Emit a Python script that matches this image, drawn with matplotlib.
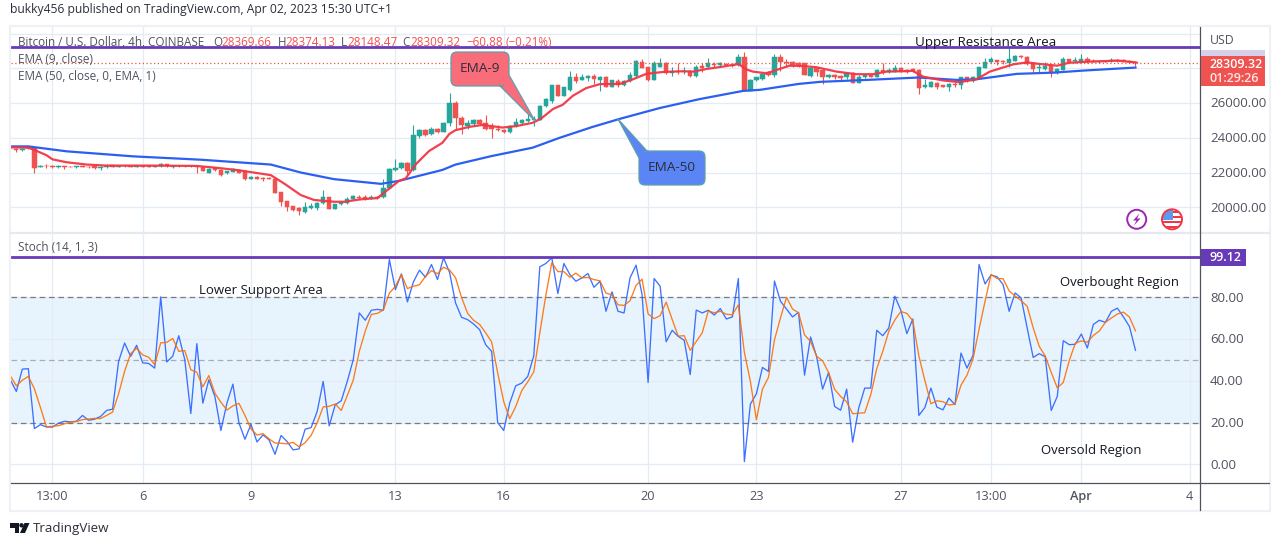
import matplotlib
matplotlib.use("Agg")
import matplotlib.pyplot as plt
import numpy as np
from matplotlib.path import Path
from matplotlib.patches import PathPatch, Rectangle, Circle, Polygon

plt.rcParams['font.family'] = ['Open Sans', 'DejaVu Sans']

W, H = 1280, 546

opens = [23380,23350,23300,23450,23400,22320,22370,22360,22340,22350,22340,22330,22360,22340,22350,22290,22300,22420,22340,22400,
 22400,22340,22380,22350,22340,22350,22480,22320,22390,22370,22390,22400,22320,22000,22270,22150,21950,22040,22130,22100,
 21620,21770,21680,21700,21640,20860,20340,20050,19960,19714,19943,19943,20228,20571,19923,20170,20230,20457,20610,20570,
 20514,20600,20570,21085,22130,22250,22550,22133,24095,24438,24190,24530,24360,24857,26000,25143,24700,24820,25050,24860,
 24630,24510,24440,24320,24700,24860,24950,25000,25050,25810,26110,27010,26420,26760,27470,27330,27430,27560,27300,27470,
 26950,27280,27030,27260,27560,28380,28060,27330,28100,28320,27710,27870,27800,27870,27560,28130,28060,28250,28170,28250,
 28170,28190,28630,26720,27300,27370,27770,27620,28630,28380,28340,28290,28290,27560,28000,27900,27490,27640,27560,27470,
 27710,27180,27470,27620,27520,27900,27810,27810,28040,27900,27940,27900,26900,26950,27180,27010,26900,27100,27010,27470,
 27240,27430,28040,28340,28460,28420,28290,28440,28700,28630,28290,28040,27960,28150,27710,27900,28510,28420,28380,28510,
 28430,28340,28430,28400,28470,28450,28420,28369.66]
closes = [23330,23300,23370,23400,22270,22400,22350,22340,22370,22330,22330,22360,22340,22320,22250,22310,22400,22340,22400,22370,
 22340,22380,22340,22340,22390,22480,22370,22400,22370,22380,22360,22300,22100,22210,22120,21880,22080,22190,21980,21600,
 21770,21620,21620,21640,20820,20300,20020,19860,19770,20000,20076,20266,20571,19923,20190,20320,20457,20650,20514,20457,
 20610,20560,21085,22190,22290,22550,22095,24133,24438,24133,24533,24360,24857,26000,25143,24760,24860,25050,24820,24510,
 24510,24440,24320,24700,24930,25000,25090,25090,25850,26230,27010,26420,26910,27470,27240,27470,27560,27370,27470,26950,
 27300,27030,27260,27620,28440,28040,27330,28290,28320,27750,27870,27770,27830,27560,28100,28000,28290,28170,28290,28170,
 28150,28630,26720,27330,27470,27680,27620,28670,28380,28290,28150,28190,27620,28000,27810,27490,27640,27520,27430,27710,
 27180,27520,27620,27520,27900,27770,27900,28040,27810,27810,27850,26860,27010,27200,26900,26950,27100,27010,27470,27240,
 27470,28060,28340,28510,28380,28380,28510,28700,28630,28250,27960,28100,28150,27710,27960,28510,28380,28470,28510,28340,
 28380,28430,28390,28470,28430,28420,28370,28309.32]
highs = [23430,23400,23420,23500,23450,22420,22480,22420,22420,22400,22380,22400,22420,22380,22400,22380,22500,22450,22450,22440,
 22450,22430,22440,22420,22440,22530,22510,22440,22420,22420,22420,22430,22360,22250,22300,22200,22110,22260,22170,22130,
 21800,21800,21720,21750,21740,20900,20380,20090,20000,20290,20266,20323,20990,20600,20210,20350,20610,20700,20680,20700,
 20680,20650,21600,22250,22800,22600,22600,24762,24515,24500,24600,24570,24900,26570,26110,25240,25050,25100,25100,25330,
 24860,24760,24500,24760,25160,25090,25430,25280,25900,26300,27050,27050,26950,27850,27750,27700,27640,27700,27560,27560,
 27350,27370,27300,27810,28500,28520,28080,28400,28570,28350,28100,28290,28100,27900,28200,28320,28570,28350,28380,28300,
 28230,28820,28910,27400,27500,27700,27850,28850,28800,28520,28400,28350,28320,28050,28050,28000,27700,27700,27620,27800,
 27800,27600,27680,27680,27950,28290,28000,28190,28080,27950,28040,27950,27370,27280,27220,27050,27150,27200,27520,27520,
 27560,28100,28610,28630,28500,28480,29140,28760,28780,28680,28330,28290,28380,28200,28000,28630,28560,28630,28820,28630,
 28520,28500,28480,28590,28520,28520,28500,28374.13]
lows = [23300,23200,23260,23370,21980,22300,22280,22290,22280,22200,22300,22290,22300,22290,22230,22150,22250,22300,22310,22330,
 22320,22300,22320,22310,22320,22330,22340,22290,22340,22340,22340,21950,22080,21970,22090,21830,21900,22010,21950,21580,
 21600,21600,21500,21600,20800,20100,19800,19780,19570,19680,19886,19847,20180,19900,19900,20150,20200,20430,20450,20400,
 20480,20500,20540,21050,22100,22230,21940,22095,23980,24100,24170,24300,24340,24670,24480,24190,24480,24750,24750,24440,
 24000,24380,24290,24300,24650,24800,24900,24700,25000,25750,26000,26380,26380,26700,27180,27300,27240,27100,26670,26900,
 26900,26950,27000,27230,27500,28000,27240,27300,28050,27700,27580,27700,27700,27500,27500,27800,28000,28100,28100,28130,
 28100,28150,26680,26700,27280,27350,27580,27500,27870,28100,28100,28100,27600,27500,27560,27100,27450,27400,27350,27400,
 27150,27150,27440,27480,27500,27700,27750,27780,27770,27750,27800,26530,26880,26900,26820,26920,26670,26910,26800,27200,
 27200,27400,28000,28300,28190,28230,28100,28400,28600,28200,27710,27750,27900,27520,27680,27880,28350,28290,28300,28300,
 28340,28300,28350,28360,28380,28380,28300,28148.47]

ema9_idx = [0,3,4,6,7,9.4,12.7,16,23.3,31,34.4,38,43.3,45.5,48.3,50.5,53.8,55.5,58.3,61,62.7,64.6,65.7,67.4,69.6,71.8,73,74,76.3,78.5,
 81.8,84,86.8,88.2,90.2,91.8,93.5,95.7,98,101.3,103.5,105.7,108.5,111.8,113.5,115.7,118.5,121,122.3,123.4,125.7,127.3,129.5,131.7,134,
 137.3,140.6,143.4,145.6,150,151.7,155,157.8,160.6,162.8,166.7,169,171,174,176,179,184,187]
ema9_val = [23450,23430,23300,23000,22760,22590,22460,22400,22400,22380,22270,22130,21850,21370,20700,20420,20320,20320,20460,20530,21000,21520,21660,22480,23240,23710,24230,24440,24630,24740,
 24590,24670,24860,25100,25660,25900,26420,26860,27090,27100,27370,27680,27790,27830,27810,27960,28100,28250,27940,27810,27710,27900,28150,28130,28060,
 27810,27660,27660,27810,27850,27520,27300,27200,27370,27810,28230,28340,28250,28150,28320,28380,28440,28340]
ema50_idx = [0,3,9.4,20.5,31.6,43.3,48.3,53.8,61.6,64.6,71.8,74,80,86.8,91.3,96.8,101.3,107.9,114.6,121.8,124.6,131,134.6,142.3,151,157.3,160.6,167.3,173.4,178.4,187]
ema50_val = [23505,23505,23220,22930,22740,22460,22000,21620,21350,21520,22150,22460,22950,23430,24000,24630,25090,25710,26230,26700,26760,27100,27220,27330,27470,27330,27370,27680,27750,27870,28040]

stoch_k = [40.5,34.9,45.6,45.8,17.1,19,17.9,17.8,19.7,20.6,20.3,20.6,23.4,21.1,21.6,22.9,25.8,26.4,49.3,58.1,
 51.7,57,48.6,48.3,46.1,80.2,49,51.8,61.6,50.1,24.3,57.8,29.3,40.5,32.5,16.2,29.3,38.4,19.8,12,
 19.2,10.7,14.1,11.7,4.8,13.8,10.9,6.9,7.4,16.8,17.6,25.3,39.7,18.4,28.5,30.4,39.7,50.1,72.5,69,
 73.8,74.2,73.8,98.1,83.7,91.2,77.8,87.4,93,89.6,95.7,88.5,98.9,92,77.3,70.4,69.3,67.2,64.5,57.3,
 54.1,20,16.2,29.3,37.6,38.9,42.1,52,94.6,96.2,98.9,81.8,96.2,90.9,87.7,89.3,91.4,84.8,87.7,73.3,
 82.6,73.3,72.5,89.3,95.4,81.3,39.2,89,85.3,58.7,64.2,61.3,59.4,43,73.9,72.5,73.8,71.5,74.6,69.6,
 70.6,89,1.3,28.8,33.8,46.4,44.5,87.8,78.1,74.4,70.6,72.8,42.7,61,51.7,36,44,27.7,25.9,36,
 10.6,26.9,36.5,36.5,64.2,61.6,65.3,80.5,73.8,62.6,69.6,23.4,27.2,36.5,27.4,26.1,31.7,28.6,53.3,46.1,
 52.2,95.7,86.4,90.7,89.8,86.1,73.3,82.1,79.7,65.3,51.2,53,51.5,25.8,32.5,59.2,57.3,57.5,62.4,55.7,
 67,69,68,73.3,74.8,70.6,66,54.6]
stoch_d = [42.4,37.6,40.3,42.1,36.2,27.3,18,18.2,18.5,19.4,20.2,20.5,21.4,21.7,22,21.9,23.4,25,33.8,44.6,
 53,55.6,52.4,51.3,47.7,58.2,58.4,60.3,54.1,54.5,45.3,44.1,37.1,42.5,34.1,29.7,26,28,29.2,23.4,
 17,14,14.7,12.2,10.2,10.1,9.8,10.5,8.4,10.4,13.9,19.9,27.5,27.8,28.9,25.8,32.9,40.3,54.1,63.9,
 71.8,72.3,73.9,82,85.2,90.9,84.2,85.3,86,90,92.8,91.3,94.4,93.1,89.4,79.9,72.3,69,67,63,
 58.6,43.8,30.1,21.8,27.7,35.3,39.5,44.3,62.9,80.9,96.6,92.3,92.3,89.6,91.6,89.3,89.5,88.5,87.9,82,
 81.2,76.4,76.1,78.4,85.7,88.7,72,69.8,71.2,77.7,69.4,61.4,61.6,54.6,58.8,63,73.4,72.6,73.3,71.9,
 71.6,76.4,53.6,39.7,21.3,36,41.6,59.6,70.1,80,74.4,72.6,62,58.8,51.8,49.6,43.9,35.9,32.5,29.9,
 24.2,24.5,24.7,33.3,45.8,54.1,63.7,69.1,73.2,72.3,68.7,51.9,40.1,29,30.4,30,28.4,28.8,37.9,42.7,
 50.5,64.7,78.1,90.9,89,88.9,83.1,80.6,78.4,75.7,65.4,56.5,51.9,44,36.6,39.2,49.7,58,59.1,58.5,
 61.7,63.9,68,70.1,72,72.9,70.5,63.9]

tick_idx = [7,22,40,64,82,106,124,148,163,178,196]
tick_lab = ['13:00','6','9','13','16','20','23','27','13:00','Apr','4']
price_ticks = [20000,22000,24000,26000,28000,30000]
price_labels = ['20000.00','22000.00','24000.00','26000.00']
stoch_ticks = [0,20,40,60,80]
resistance = 29208
last_close = 28309.32
stoch_level = 99.12

GRID = '#e3ecf4'
GREEN, RED = '#26a69a', '#ef5350'
PURPLE = '#673ab7'
TXT = '#50535e'
DARK = '#131722'

fig = plt.figure(figsize=(W/100, H/100), dpi=100, facecolor='white')
def rect(x0, y0, x1, y1):
    return [x0/W, 1-y1/H, (x1-x0)/W, (y1-y0)/H]

X0, X1 = 11, 1200
xl = ((X0-10.3)/6.017, (X1-10.3)/6.017)
ax = fig.add_axes(rect(X0, 27, X1, 232.5))
ax2 = fig.add_axes(rect(X0, 233.5, X1, 483.3))
def p2price(p): return 20000+(207.3-p)*57.55
def p2st(p): return (464.3-p)/2.0875
ax.set_ylim(p2price(232.5), p2price(27))
ax2.set_ylim(p2st(483.3), p2st(233.5))
for a in (ax, ax2):
    a.set_xlim(*xl)
    a.set_xticks(tick_idx)
    a.set_xticklabels([])
    a.tick_params(length=0, labelleft=False, labelbottom=False)
    for s in a.spines.values():
        s.set_visible(False)
    a.set_axisbelow(True)
    a.grid(True, color=GRID, lw=0.9)
ax.set_yticks(price_ticks)
ax2.set_yticks(stoch_ticks)

# candles
idx = np.arange(len(closes))
o, c, h, l = map(np.array, (opens, closes, highs, lows))
cols = np.where(c >= o, GREEN, RED)
ax.vlines(idx, l, h, colors=cols, lw=0.8, zorder=2)
ax.bar(idx, np.abs(c-o), bottom=np.minimum(o, c), width=0.72, color=cols, edgecolor=cols, lw=0.35, zorder=3)
ax.plot(ema50_idx, ema50_val, color='#2b5ff2', lw=1.6, zorder=4, solid_joinstyle='round')
ax.plot(ema9_idx, ema9_val, color='#f23645', lw=1.6, alpha=0.95, zorder=5, solid_joinstyle='round')
ax.axhline(last_close, color=RED, lw=0.9, ls=(0, (1, 2)), zorder=4)
ax.axhline(resistance, color=PURPLE, lw=2.0, zorder=6)

# stochastic
ax2.axhspan(20, 80, color='#2196f3', alpha=0.1, lw=0, zorder=0)
for v, col in ((80, '#787b86'), (50, '#a9acb4'), (20, '#787b86')):
    ax2.axhline(v, color=col, lw=0.9, ls=(0, (4.5, 3)), zorder=1)
ax2.plot(idx, stoch_k, color='#2962ff', lw=0.95, alpha=0.9, zorder=3)
ax2.plot(idx, stoch_d, color='#ff6d00', lw=0.95, alpha=0.9, zorder=4)
ax2.axhline(stoch_level, color=PURPLE, lw=2.0, zorder=6)

# overlay in pixels for chart furniture
ov = fig.add_axes([0, 0, 1, 1], facecolor='none')
ov.set_xlim(0, W); ov.set_ylim(H, 0); ov.axis('off')
ov.add_patch(Rectangle((9.5, 26), 1260, 484.5, fill=False, ec='#eef1f5', lw=1.6))
ov.plot([X0, 1269], [232.8, 232.8], color='#e6e9ef', lw=1.6)
ov.plot([X1, X1], [27, 510], color='#50535e', lw=0.9)
ov.plot([X0, 1269], [483.3, 483.3], color='#50535e', lw=0.9)

fs = 8.5
def T(x, y, s, color=TXT, ha='left', size=fs, **k):
    return ov.text(x, y+0.9, s, color=color, ha=ha, va='center', fontsize=size, zorder=20, **k)

T(10, 8.5, 'bukky456 published on TradingView.com, Apr 02, 2023 15:30 UTC+1', color='#2a2e39', size=8.75)
T(18, 41.5, 'Bitcoin / U.S. Dollar, 4h, COINBASE', size=8.35)
for x, s in ((213, 'O'), (277.5, 'H'), (341, 'L'), (402.5, 'C')):
    T(x, 41.5, s, size=8.35)
for x, s in ((221.5, '28369.66'), (285.5, '28374.13'), (347, '28148.47'), (410, '28309.32'), (466, '\u221260.88'), (506, '(\u22120.21%)')):
    T(x, 41.5, s, color=RED, size=8.35)
T(18, 59, 'EMA (9, close)')
T(18, 75.5, 'EMA (50, close, 0, EMA, 1)')
T(18, 247, 'Stoch (14, 1, 3)')
T(915, 41.5, 'Upper Resistance Area', color=DARK, size=9.6)
T(199, 290, 'Lower Support Area', color=DARK, size=9.55)
T(1060, 282, 'Overbought Region', color=DARK, size=9.45)
T(1041, 450, 'Oversold Region', color=DARK, size=9.45)

# axis labels
T(1210, 40, 'USD', size=8.8)
for v, s in zip(price_ticks, price_labels):
    T(1210, 207.3-(v-20000)/57.55, s, size=9.5)
for v in stoch_ticks:
    T(1210, 464.3-v*2.0875, f'{v:.2f}', size=9.5)
for i, s in zip(tick_idx, tick_lab):
    T(10.3+6.017*i, 496, s, ha='center', size=9.2, fontweight='semibold' if s == 'Apr' else 'normal')

# price tags
ov.add_patch(Rectangle((1200.5, 50), 64.5, 6, fc='#d6cfe9', ec='none', zorder=9))
ov.add_patch(Rectangle((1200.5, 56), 64.5, 30, fc=RED, ec='none', zorder=10))
T(1210, 63.5, '28309.32', color='white', size=9.0, fontweight='semibold')
T(1210, 77.5, '01:29:26', color='#ffe3e2', size=9.0, fontweight='semibold')
ov.add_patch(Rectangle((1200.5, 249), 45.5, 17, fc=PURPLE, ec='none', zorder=10))
T(1210, 257, '99.12', color='white', size=9.0, fontweight='semibold')

# callouts
def bubble(x0, y0, x1, y1, r, tail, where, fc, text):
    v = [(x0+r, y0)]; k = [Path.MOVETO]
    if where == 'tl':
        v += [(tail[2]), ]; k += [Path.LINETO]
    v += [(x1-r, y0), (x1, y0), (x1, y0+r)]; k += [Path.LINETO, Path.CURVE3, Path.CURVE3]
    if where == 'br':
        v += tail; k += [Path.LINETO]*3
    v += [(x1, y1-r), (x1, y1), (x1-r, y1)] if where != 'br' else [(x1-r, y1)]
    k += [Path.LINETO, Path.CURVE3, Path.CURVE3] if where != 'br' else [Path.LINETO]
    v += [(x0+r, y1), (x0, y1), (x0, y1-r)]; k += [Path.LINETO, Path.CURVE3, Path.CURVE3]
    if where == 'tl':
        v += [tail[0], tail[1]]; k += [Path.LINETO, Path.LINETO]
        v += [tail[2], (x0+r, y0)]; k += [Path.LINETO, Path.CLOSEPOLY]
    else:
        v += [(x0, y0+r), (x0, y0), (x0+r, y0)]; k += [Path.LINETO, Path.CURVE3, Path.CURVE3]
    ov.add_patch(PathPatch(Path(v, k), fc=fc, ec='#5d9fb0', lw=0.9, zorder=15, joinstyle='round'))
    T((x0+x1)/2, (y0+y1)/2-1, text, color='#2a2e39', ha='center', size=9.7)

bubble(451, 52, 509, 86, 6, [(509, 75), (535, 121), (500, 86)], 'br', '#f96d7b', 'EMA-9')
bubble(639, 151, 705, 185, 6, [(639, 158), (618, 119), (647, 151)], 'tl', '#5b85f5', 'EMA-50')

# round icons
ov.add_patch(Circle((1136.7, 219.3), 9.5, fc='white', ec='#9c27b0', lw=1.4, zorder=12))
ov.add_patch(Polygon([(1139.5, 213.5), (1133, 220.5), (1136.5, 220.5), (1134, 225.5), (1140.5, 218.5), (1137, 218.5)], fc='#9c27b0', ec='none', zorder=13))
flag = Circle((1172, 219.3), 9.5, fc='white', ec='none', zorder=12)
ov.add_patch(flag)
for yy, hh in ((210.5, 2.4), (215.5, 2.4), (220.5, 2.4), (225.5, 2.4)):
    s = ov.add_patch(Rectangle((1162, yy), 20, hh, fc='#f23645', ec='none', zorder=13)); s.set_clip_path(flag)
s = ov.add_patch(Rectangle((1162, 209), 10.5, 10.5, fc='#5b9cf0', ec='none', zorder=14)); s.set_clip_path(flag)
ov.add_patch(Circle((1172, 219.3), 10, fc='none', ec='#f23645', lw=1.4, zorder=15))

# footer logo
ov.add_patch(Polygon([(10, 523), (19, 523), (19, 533), (14.5, 533), (14.5, 527.5), (10, 527.5)], fc='#131722', ec='none'))
ov.add_patch(Circle((21.5, 525.3), 2.2, fc='#131722', ec='none'))
ov.add_patch(Polygon([(24.5, 523), (29.5, 523), (25, 533), (20, 533)], fc='#131722', ec='none'))
T(33, 528, 'TradingView', color='#2a2e39', size=9.6)

fig.savefig('out.png', dpi=100, facecolor='white')
